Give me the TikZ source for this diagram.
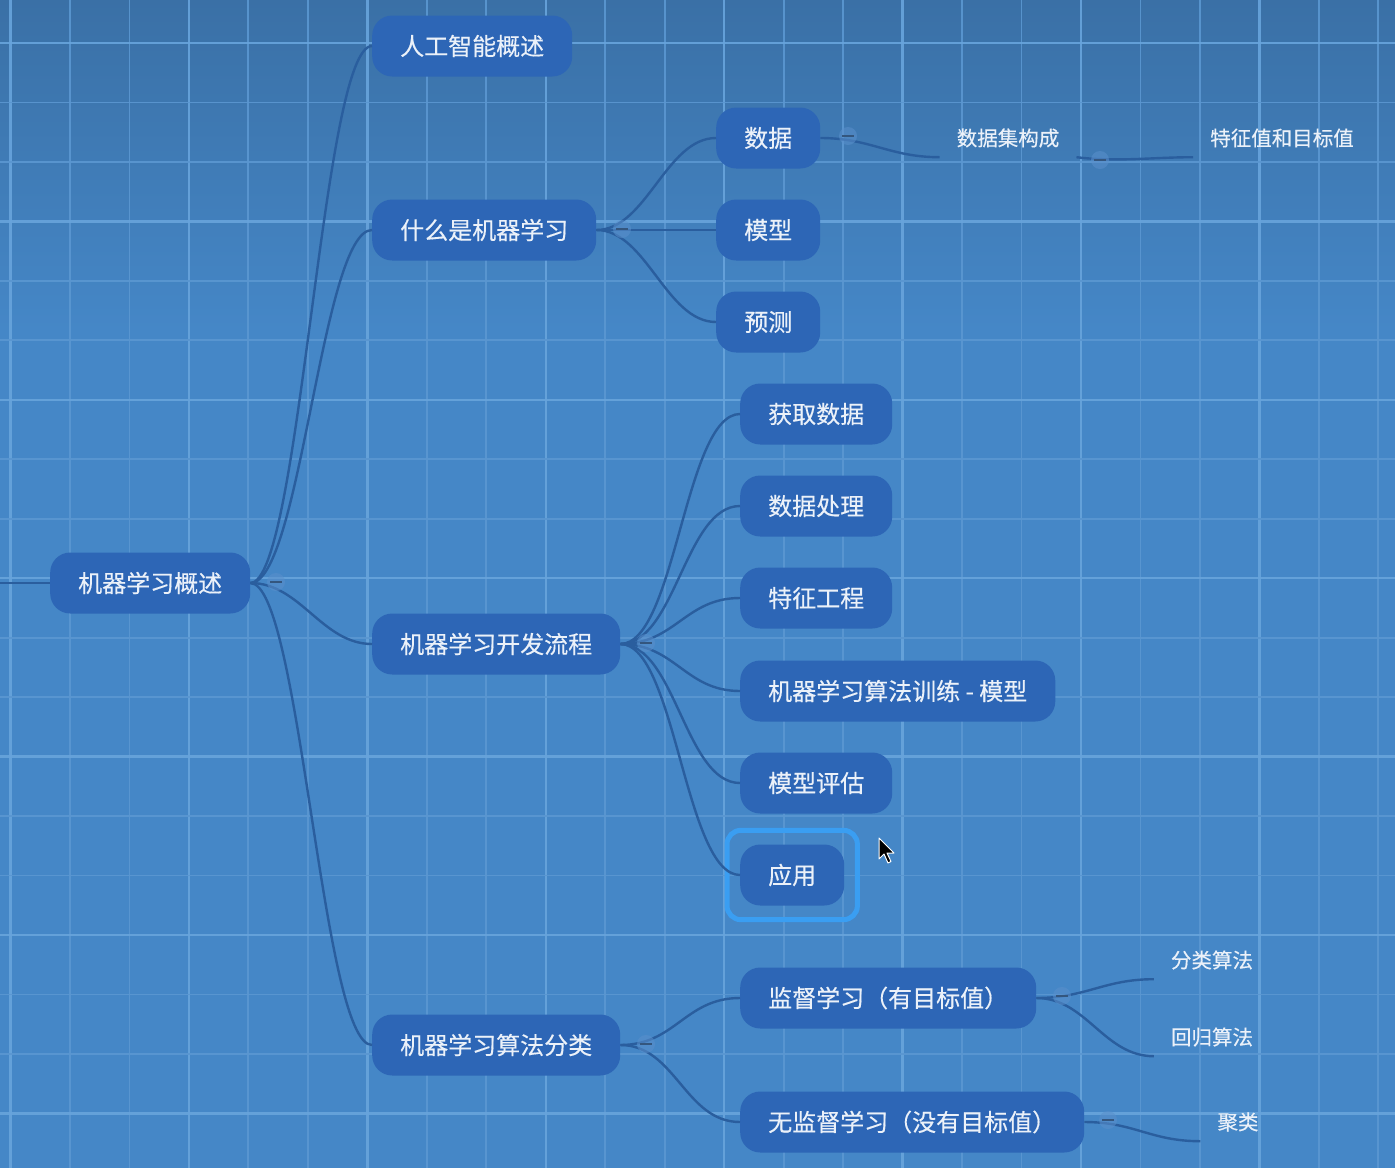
\documentclass[tikz,border=0pt]{standalone}
\usepackage{fontspec}
\newfontfamily\cjk[FakeBold=0.35]{Noto Sans CJK SC}
\usetikzlibrary{calc,fit}
\definecolor{bgtop}{HTML}{3A70A6}
\definecolor{bgmid}{HTML}{4587C7}
\definecolor{gridmaj}{HTML}{68A4DC}
\definecolor{gridmin}{HTML}{5B97D1}
\definecolor{nodefill}{HTML}{2D66B6}
\definecolor{linkc}{HTML}{2A5E9E}
\definecolor{txt}{HTML}{EBF1F9}
\definecolor{selc}{HTML}{3A9EF2}
\definecolor{foldc}{HTML}{5A90CC}
\definecolor{dashc}{HTML}{34567E}
\begin{document}
\begin{tikzpicture}[x=1pt,y=-1pt,
  topic/.style={fill=nodefill, rounded corners=20pt, text=txt,
    font=\cjk\fontsize{24}{28}\selectfont, minimum height=61pt,
    inner xsep=28pt, inner ysep=0pt, anchor=west},
  leaf/.style={text=txt, font=\cjk\fontsize{20.5}{24}\selectfont,
    minimum height=38pt, inner xsep=17pt, inner ysep=0pt},
  link/.style={draw=linkc, line width=2.4pt},
  fold/.style={circle, fill=foldc, fill opacity=0.55, minimum size=18pt, inner sep=0pt,
    path picture={\draw[dashc, line width=2pt, opacity=1]
      ([xshift=-6pt]path picture bounding box.center) -- ([xshift=6pt]path picture bounding box.center);}},
  selframe/.style={draw=selc, line width=5pt, rounded corners=14pt, inner xsep=13pt, inner ysep=14pt}
]
\useasboundingbox (0,0) rectangle (1395,1168);
% background
\fill[bgmid] (0,0) rectangle (1395,1168);
\shade[top color=bgtop, bottom color=bgmid] (0,0) rectangle (1395,330);
% grid
\foreach \i in {0,...,23}{
  \pgfmathtruncatemacro{\m}{mod(\i,3)}
  \ifnum\m=0
    \draw[gridmaj, line width=2.4pt, opacity=0.9] ({10.5+59.47*\i},0) -- ({10.5+59.47*\i},1168);
  \else
    \draw[gridmin, line width=1.8pt, opacity=0.9] ({10.5+59.47*\i},0) -- ({10.5+59.47*\i},1168);
  \fi
}
\foreach \k in {0,...,18}{
  \pgfmathtruncatemacro{\m}{mod(\k,3)}
  \ifnum\m=0
    \draw[gridmaj, line width=2.4pt, opacity=0.9] (0,{43+59.47*\k}) -- (1395,{43+59.47*\k});
  \else
    \draw[gridmin, line width=1.8pt, opacity=0.9] (0,{43+59.47*\k}) -- (1395,{43+59.47*\k});
  \fi
}
% nodes
\node[topic] (root) at (50,583) {机器学习概述};
\node[topic] (ai) at (372,46) {人工智能概述};
\node[topic] (what) at (372,230) {什么是机器学习};
\node[topic] (dev) at (372,644) {机器学习开发流程};
\node[topic] (cls) at (372,1045) {机器学习算法分类};
\node[topic] (data) at (716,138) {数据};
\node[topic] (model) at (716,230) {模型};
\node[topic] (pred) at (716,322) {预测};
\node[topic] (get) at (740,414) {获取数据};
\node[topic] (proc) at (740,506) {数据处理};
\node[topic] (feat) at (740,598) {特征工程};
\node[topic] (train) at (740,691) {机器学习算法训练 - 模型};
\node[topic] (eval) at (740,783) {模型评估};
\node[topic] (app) at (740,875) {应用};
\node[topic] (sup) at (740,998) {监督学习（有目标值）};
\node[topic] (unsup) at (740,1122) {无监督学习（没有目标值）};
\node[leaf] (dset) at (1008,138) {数据集构成};
\node[leaf] (fv) at (1282,138) {特征值和目标值};
\node[leaf] (c1) at (1212,960) {分类算法};
\node[leaf] (c2) at (1212,1037) {回归算法};
\node[leaf] (c3) at (1238,1122) {聚类};
\node[selframe, fit=(app)] (sel) {};
% connectors
\coordinate (lin) at (0,583);
\draw[link] (lin) -- (root.west);
\foreach \c in {ai,what,dev,cls}
  \draw[link] (root.east) .. controls +(50,0) and +(-50,0) .. (\c.west);
\foreach \c in {data,model,pred}
  \draw[link] (what.east) .. controls +(50,0) and +(-50,0) .. (\c.west);
\foreach \c in {get,proc,feat,train,eval,app}
  \draw[link] (dev.east) .. controls +(55,0) and +(-55,0) .. (\c.west);
\foreach \c in {sup,unsup}
  \draw[link] (cls.east) .. controls +(55,0) and +(-55,0) .. (\c.west);
\draw[link] (data.east) .. controls +(50,0) and +(-50,0) .. (dset.south west);
\draw[link] (dset.south east) .. controls +(40,5) and +(-40,0) .. (fv.south west);
\foreach \c in {c1,c2}
  \draw[link] (sup.east) .. controls +(50,0) and +(-50,0) .. (\c.south west);
\draw[link] (unsup.east) .. controls +(50,0) and +(-50,0) .. (c3.south west);
% fold buttons
\node[fold] (f1) at (276,582) {};
\node[fold] (f2) at (622,229) {};
\node[fold] (f3) at (646,643) {};
\node[fold] (f4) at (646,1044) {};
\node[fold] (f5) at (848,136) {};
\node[fold] (f6) at (1100,160) {};
\node[fold] (f7) at (1062,996) {};
\node[fold] (f8) at (1108,1120) {};
% mouse cursor
\filldraw[fill=black, draw=white, line width=1pt, line join=round]
  (879,838) -- (879,859) -- (884,854) -- (888,863) -- (891,861.5) -- (887,853) -- (894,853) -- cycle;
\end{tikzpicture}
\end{document}
